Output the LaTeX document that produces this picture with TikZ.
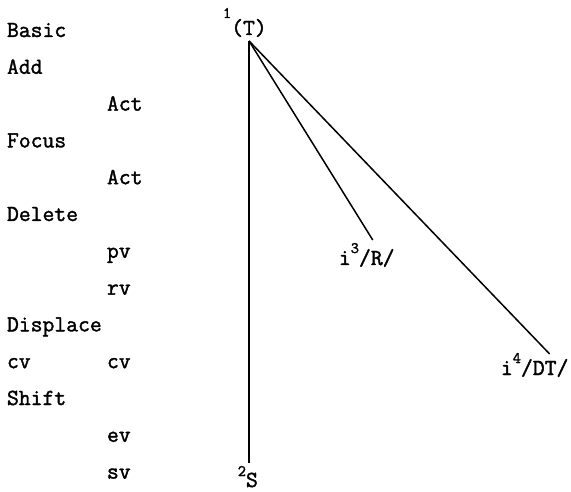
\documentclass[tikz,border=0pt]{standalone}
\usepackage{fontspec}
\newfontfamily\twfont{Latin Modern Mono}[FakeBold=1.6]
\newcommand\lblfont{\twfont\fontsize{23}{23}\selectfont}
\newcommand\supfont{\twfont\fontsize{16}{16}\selectfont}
\begin{document}
\begin{tikzpicture}[x=1pt,y=-1pt,
  every node/.style={inner sep=0pt, outer sep=0pt, font=\lblfont},
  lab/.style={anchor=base west},
  labe/.style={anchor=base east},
  supr/.style={anchor=base east, font=\supfont},
  edge/.style={line width=1.5pt}]
\useasboundingbox (0,0) rectangle (571,492);
% left column labels
\node[lab] (basic)    at (7,37)       {Basic};
\node[lab] (add)      at (7,73.8)     {Add};
\node[lab] (act1)     at (107,110.6)  {Act};
\node[lab] (focus)    at (7,147.4)    {Focus};
\node[lab] (act2)     at (107,184.2)  {Act};
\node[lab] (delete)   at (7,221)      {Delete};
\node[lab] (pv)       at (107,257.8)  {pv};
\node[lab] (rv)       at (107,294.6)  {rv};
\node[lab] (displace) at (7,331.4)    {Displace};
\node[lab] (cva)      at (7,368.2)    {cv};
\node[lab] (cvb)      at (107,368.2)  {cv};
\node[lab] (shift)    at (7,405)      {Shift};
\node[lab] (ev)       at (107,441.8)  {ev};
\node[lab] (sv)       at (107,478.6)  {sv};
% tree nodes
\node[anchor=base] (root) at (249,35) {(T)};
\node[supr] (one) at (root.base west) [yshift=17pt] {1};
\node[lab] (rR) at (359,265) {/R/};
\node[labe] (iR) at (rR.base west) {i\raisebox{12pt}{\supfont 3}};
\node[lab] (rDT) at (521,375) {/DT/};
\node[labe] (iDT) at (rDT.base west) {i\raisebox{12pt}{\supfont 4}};
\node[lab] (sS) at (246,487) {S};
\node[supr] (two) at (sS.base west) [yshift=11pt] {2};
% connector end points
\coordinate (apex) at ([yshift=-4pt]root.south);
\coordinate (eR)   at ([xshift=-4pt,yshift=9pt]rR.north);
\coordinate (eDT)  at ([xshift=5pt,yshift=5pt]rDT.north);
\coordinate (eS)   at ([yshift=10pt]sS.north west);
\draw[edge] (apex) -- (apex |- eS);
\draw[edge] (apex) -- (eR);
\draw[edge] (apex) -- (eDT);
\end{tikzpicture}
\end{document}
